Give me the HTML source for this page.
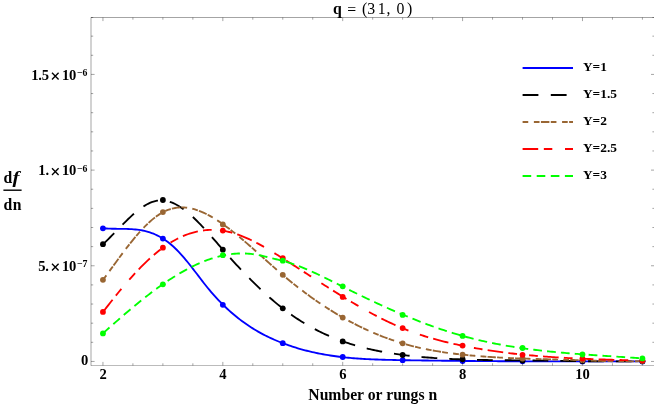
<!DOCTYPE html>
<html><head><meta charset="utf-8"><title>plot</title>
<style>html,body{margin:0;padding:0;background:#fff;overflow:hidden}body{width:654px;height:404px;font-family:"Liberation Serif",serif}</style></head>
<body>
<svg width="654" height="404" viewBox="0 0 654 404" style="display:block;will-change:transform">
<rect width="654" height="404" fill="#fff"/>
<g fill="none" stroke-width="1.85" stroke-linecap="butt" stroke-linejoin="round">
<path d="M102.95,228.29 L104.75,228.42 L106.56,228.53 L108.36,228.62 L110.17,228.68 L111.97,228.73 L113.78,228.76 L115.58,228.78 L117.38,228.80 L119.19,228.81 L120.99,228.83 L122.80,228.85 L124.60,228.88 L126.40,228.93 L128.21,228.99 L130.01,229.07 L131.82,229.17 L133.62,229.31 L135.43,229.47 L137.23,229.67 L139.03,229.91 L140.84,230.20 L142.64,230.53 L144.45,230.91 L146.25,231.35 L148.06,231.84 L149.86,232.40 L151.66,233.02 L153.47,233.72 L155.27,234.48 L157.08,235.33 L158.88,236.25 L160.68,237.25 L162.49,238.33 L164.29,239.49 L166.10,240.73 L167.90,242.06 L169.71,243.47 L171.51,244.97 L173.31,246.56 L175.12,248.23 L176.92,250.00 L178.73,251.85 L180.53,253.79 L182.34,255.80 L184.14,257.89 L185.94,260.03 L187.75,262.23 L189.55,264.48 L191.36,266.77 L193.16,269.10 L194.96,271.45 L196.77,273.81 L198.57,276.17 L200.38,278.54 L202.18,280.88 L203.99,283.20 L205.79,285.48 L207.59,287.72 L209.40,289.91 L211.20,292.04 L213.01,294.12 L214.81,296.15 L216.62,298.13 L218.42,300.06 L220.22,301.94 L222.03,303.77 L223.83,305.55 L225.64,307.29 L227.44,308.98 L229.24,310.63 L231.05,312.24 L232.85,313.80 L234.66,315.32 L236.46,316.80 L238.27,318.23 L240.07,319.63 L241.87,320.99 L243.68,322.31 L245.48,323.59 L247.29,324.84 L249.09,326.05 L250.90,327.23 L252.70,328.37 L254.50,329.48 L256.31,330.56 L258.11,331.60 L259.92,332.62 L261.72,333.61 L263.53,334.56 L265.33,335.49 L267.13,336.39 L268.94,337.27 L270.74,338.12 L272.55,338.94 L274.35,339.74 L276.15,340.52 L277.96,341.27 L279.76,342.00 L281.57,342.72 L283.37,343.41 L285.18,344.08 L286.98,344.74 L288.78,345.37 L290.59,345.99 L292.39,346.59 L294.20,347.17 L296.00,347.73 L297.81,348.28 L299.61,348.81 L301.41,349.32 L303.22,349.82 L305.02,350.30 L306.83,350.76 L308.63,351.21 L310.43,351.64 L312.24,352.06 L314.04,352.47 L315.85,352.86 L317.65,353.23 L319.46,353.59 L321.26,353.94 L323.06,354.27 L324.87,354.60 L326.67,354.91 L328.48,355.20 L330.28,355.49 L332.09,355.76 L333.89,356.02 L335.69,356.27 L337.50,356.51 L339.30,356.74 L341.11,356.95 L342.91,357.16 L344.71,357.36 L346.52,357.55 L348.32,357.72 L350.13,357.89 L351.93,358.05 L353.74,358.21 L355.54,358.35 L357.34,358.49 L359.15,358.62 L360.95,358.74 L362.76,358.85 L364.56,358.96 L366.37,359.06 L368.17,359.15 L369.97,359.24 L371.78,359.33 L373.58,359.40 L375.39,359.48 L377.19,359.54 L378.99,359.61 L380.80,359.67 L382.60,359.72 L384.41,359.78 L386.21,359.82 L388.02,359.87 L389.82,359.91 L391.62,359.95 L393.43,359.99 L395.23,360.03 L397.04,360.06 L398.84,360.09 L400.65,360.13 L402.45,360.16 L404.25,360.19 L406.06,360.22 L407.86,360.25 L409.67,360.28 L411.47,360.31 L413.27,360.33 L415.08,360.36 L416.88,360.39 L418.69,360.42 L420.49,360.44 L422.30,360.47 L424.10,360.49 L425.90,360.52 L427.71,360.54 L429.51,360.57 L431.32,360.59 L433.12,360.62 L434.93,360.64 L436.73,360.66 L438.53,360.68 L440.34,360.70 L442.14,360.73 L443.95,360.75 L445.75,360.77 L447.55,360.79 L449.36,360.81 L451.16,360.83 L452.97,360.85 L454.77,360.86 L456.58,360.88 L458.38,360.90 L460.18,360.92 L461.99,360.93 L463.79,360.95 L465.60,360.97 L467.40,360.98 L469.21,361.00 L471.01,361.02 L472.81,361.03 L474.62,361.04 L476.42,361.06 L478.23,361.07 L480.03,361.09 L481.83,361.10 L483.64,361.11 L485.44,361.13 L487.25,361.14 L489.05,361.15 L490.86,361.16 L492.66,361.17 L494.46,361.18 L496.27,361.19 L498.07,361.21 L499.88,361.22 L501.68,361.23 L503.49,361.23 L505.29,361.24 L507.09,361.25 L508.90,361.26 L510.70,361.27 L512.51,361.28 L514.31,361.29 L516.12,361.29 L517.92,361.30 L519.72,361.31 L521.53,361.32 L523.33,361.32 L525.14,361.33 L526.94,361.33 L528.74,361.34 L530.55,361.35 L532.35,361.35 L534.16,361.36 L535.96,361.36 L537.77,361.37 L539.57,361.37 L541.37,361.38 L543.18,361.38 L544.98,361.38 L546.79,361.39 L548.59,361.39 L550.40,361.39 L552.20,361.40 L554.00,361.40 L555.81,361.40 L557.61,361.41 L559.42,361.41 L561.22,361.41 L563.02,361.41 L564.83,361.42 L566.63,361.42 L568.44,361.42 L570.24,361.42 L572.05,361.42 L573.85,361.42 L575.65,361.42 L577.46,361.42 L579.26,361.42 L581.07,361.43 L582.87,361.43 L584.68,361.43 L586.48,361.43 L588.28,361.43 L590.09,361.43 L591.89,361.43 L593.70,361.43 L595.50,361.43 L597.30,361.42 L599.11,361.42 L600.91,361.42 L602.72,361.42 L604.52,361.42 L606.33,361.42 L608.13,361.42 L609.93,361.42 L611.74,361.42 L613.54,361.42 L615.35,361.41 L617.15,361.41 L618.96,361.41 L620.76,361.41 L622.56,361.41 L624.37,361.41 L626.17,361.40 L627.98,361.40 L629.78,361.40 L631.58,361.40 L633.39,361.40 L635.19,361.40 L637.00,361.39 L638.80,361.39 L640.61,361.39 L642.41,361.39" stroke="#0000ff"/>
<path d="M102.95,244.28 L104.75,242.59 L106.56,240.85 L108.36,239.07 L110.17,237.27 L111.97,235.45 L113.78,233.61 L115.58,231.76 L117.38,229.90 L119.19,228.05 L120.99,226.21 L122.80,224.38 L124.60,222.57 L126.40,220.79 L128.21,219.04 L130.01,217.33 L131.82,215.67 L133.62,214.06 L135.43,212.51 L137.23,211.02 L139.03,209.60 L140.84,208.26 L142.64,207.01 L144.45,205.84 L146.25,204.77 L148.06,203.80 L149.86,202.93 L151.66,202.18 L153.47,201.55 L155.27,201.05 L157.08,200.68 L158.88,200.45 L160.68,200.36 L162.49,200.39 L164.29,200.56 L166.10,200.85 L167.90,201.26 L169.71,201.79 L171.51,202.43 L173.31,203.18 L175.12,204.03 L176.92,204.98 L178.73,206.02 L180.53,207.16 L182.34,208.38 L184.14,209.69 L185.94,211.07 L187.75,212.53 L189.55,214.05 L191.36,215.64 L193.16,217.30 L194.96,219.01 L196.77,220.77 L198.57,222.59 L200.38,224.44 L202.18,226.34 L203.99,228.28 L205.79,230.24 L207.59,232.24 L209.40,234.25 L211.20,236.29 L213.01,238.34 L214.81,240.41 L216.62,242.48 L218.42,244.55 L220.22,246.62 L222.03,248.68 L223.83,250.74 L225.64,252.78 L227.44,254.81 L229.24,256.83 L231.05,258.84 L232.85,260.83 L234.66,262.80 L236.46,264.76 L238.27,266.71 L240.07,268.64 L241.87,270.55 L243.68,272.44 L245.48,274.32 L247.29,276.18 L249.09,278.02 L250.90,279.85 L252.70,281.65 L254.50,283.43 L256.31,285.20 L258.11,286.94 L259.92,288.66 L261.72,290.36 L263.53,292.04 L265.33,293.69 L267.13,295.32 L268.94,296.93 L270.74,298.51 L272.55,300.07 L274.35,301.61 L276.15,303.11 L277.96,304.60 L279.76,306.05 L281.57,307.48 L283.37,308.88 L285.18,310.25 L286.98,311.60 L288.78,312.92 L290.59,314.21 L292.39,315.47 L294.20,316.71 L296.00,317.92 L297.81,319.11 L299.61,320.27 L301.41,321.41 L303.22,322.52 L305.02,323.61 L306.83,324.67 L308.63,325.72 L310.43,326.73 L312.24,327.73 L314.04,328.70 L315.85,329.65 L317.65,330.57 L319.46,331.48 L321.26,332.36 L323.06,333.22 L324.87,334.06 L326.67,334.88 L328.48,335.68 L330.28,336.46 L332.09,337.22 L333.89,337.96 L335.69,338.69 L337.50,339.39 L339.30,340.07 L341.11,340.74 L342.91,341.39 L344.71,342.02 L346.52,342.64 L348.32,343.23 L350.13,343.81 L351.93,344.38 L353.74,344.93 L355.54,345.46 L357.34,345.98 L359.15,346.48 L360.95,346.97 L362.76,347.45 L364.56,347.91 L366.37,348.35 L368.17,348.78 L369.97,349.20 L371.78,349.61 L373.58,350.01 L375.39,350.39 L377.19,350.76 L378.99,351.12 L380.80,351.47 L382.60,351.80 L384.41,352.13 L386.21,352.45 L388.02,352.75 L389.82,353.05 L391.62,353.34 L393.43,353.61 L395.23,353.88 L397.04,354.14 L398.84,354.40 L400.65,354.64 L402.45,354.88 L404.25,355.11 L406.06,355.33 L407.86,355.55 L409.67,355.76 L411.47,355.96 L413.27,356.16 L415.08,356.35 L416.88,356.53 L418.69,356.71 L420.49,356.88 L422.30,357.05 L424.10,357.21 L425.90,357.36 L427.71,357.51 L429.51,357.65 L431.32,357.79 L433.12,357.92 L434.93,358.05 L436.73,358.17 L438.53,358.29 L440.34,358.40 L442.14,358.51 L443.95,358.61 L445.75,358.71 L447.55,358.80 L449.36,358.89 L451.16,358.98 L452.97,359.06 L454.77,359.14 L456.58,359.22 L458.38,359.29 L460.18,359.35 L461.99,359.42 L463.79,359.48 L465.60,359.54 L467.40,359.59 L469.21,359.64 L471.01,359.69 L472.81,359.74 L474.62,359.78 L476.42,359.82 L478.23,359.86 L480.03,359.90 L481.83,359.93 L483.64,359.96 L485.44,359.99 L487.25,360.02 L489.05,360.05 L490.86,360.08 L492.66,360.10 L494.46,360.12 L496.27,360.15 L498.07,360.17 L499.88,360.19 L501.68,360.21 L503.49,360.22 L505.29,360.24 L507.09,360.26 L508.90,360.28 L510.70,360.29 L512.51,360.31 L514.31,360.33 L516.12,360.34 L517.92,360.36 L519.72,360.38 L521.53,360.40 L523.33,360.42 L525.14,360.44 L526.94,360.46 L528.74,360.48 L530.55,360.50 L532.35,360.52 L534.16,360.54 L535.96,360.56 L537.77,360.59 L539.57,360.61 L541.37,360.63 L543.18,360.66 L544.98,360.68 L546.79,360.70 L548.59,360.73 L550.40,360.75 L552.20,360.78 L554.00,360.80 L555.81,360.83 L557.61,360.85 L559.42,360.88 L561.22,360.90 L563.02,360.92 L564.83,360.95 L566.63,360.97 L568.44,361.00 L570.24,361.02 L572.05,361.04 L573.85,361.07 L575.65,361.09 L577.46,361.11 L579.26,361.13 L581.07,361.15 L582.87,361.17 L584.68,361.19 L586.48,361.21 L588.28,361.23 L590.09,361.25 L591.89,361.26 L593.70,361.28 L595.50,361.30 L597.30,361.31 L599.11,361.32 L600.91,361.34 L602.72,361.35 L604.52,361.36 L606.33,361.37 L608.13,361.38 L609.93,361.39 L611.74,361.39 L613.54,361.40 L615.35,361.40 L617.15,361.41 L618.96,361.41 L620.76,361.41 L622.56,361.41 L624.37,361.40 L626.17,361.40 L627.98,361.39 L629.78,361.39 L631.58,361.38 L633.39,361.37 L635.19,361.36 L637.00,361.34 L638.80,361.33 L640.61,361.31 L642.41,361.29" stroke="#000000" stroke-dasharray="15.75 12.02"/>
<path d="M102.95,280.04 L104.75,277.57 L106.56,275.10 L108.36,272.61 L110.17,270.13 L111.97,267.64 L113.78,265.16 L115.58,262.68 L117.38,260.22 L119.19,257.77 L120.99,255.33 L122.80,252.92 L124.60,250.53 L126.40,248.17 L128.21,245.85 L130.01,243.55 L131.82,241.30 L133.62,239.09 L135.43,236.93 L137.23,234.81 L139.03,232.75 L140.84,230.75 L142.64,228.81 L144.45,226.93 L146.25,225.12 L148.06,223.38 L149.86,221.71 L151.66,220.13 L153.47,218.62 L155.27,217.20 L157.08,215.87 L158.88,214.64 L160.68,213.50 L162.49,212.46 L164.29,211.52 L166.10,210.68 L167.90,209.95 L169.71,209.31 L171.51,208.77 L173.31,208.32 L175.12,207.97 L176.92,207.70 L178.73,207.52 L180.53,207.43 L182.34,207.41 L184.14,207.48 L185.94,207.63 L187.75,207.85 L189.55,208.15 L191.36,208.52 L193.16,208.95 L194.96,209.46 L196.77,210.03 L198.57,210.66 L200.38,211.35 L202.18,212.10 L203.99,212.91 L205.79,213.77 L207.59,214.68 L209.40,215.64 L211.20,216.65 L213.01,217.70 L214.81,218.80 L216.62,219.93 L218.42,221.11 L220.22,222.32 L222.03,223.56 L223.83,224.84 L225.64,226.15 L227.44,227.48 L229.24,228.84 L231.05,230.23 L232.85,231.64 L234.66,233.08 L236.46,234.53 L238.27,236.01 L240.07,237.51 L241.87,239.02 L243.68,240.55 L245.48,242.09 L247.29,243.65 L249.09,245.22 L250.90,246.80 L252.70,248.39 L254.50,249.99 L256.31,251.59 L258.11,253.20 L259.92,254.81 L261.72,256.42 L263.53,258.04 L265.33,259.65 L267.13,261.27 L268.94,262.88 L270.74,264.48 L272.55,266.08 L274.35,267.67 L276.15,269.25 L277.96,270.83 L279.76,272.39 L281.57,273.94 L283.37,275.47 L285.18,276.99 L286.98,278.49 L288.78,279.98 L290.59,281.45 L292.39,282.91 L294.20,284.35 L296.00,285.78 L297.81,287.19 L299.61,288.59 L301.41,289.97 L303.22,291.34 L305.02,292.69 L306.83,294.03 L308.63,295.35 L310.43,296.65 L312.24,297.94 L314.04,299.22 L315.85,300.48 L317.65,301.73 L319.46,302.96 L321.26,304.17 L323.06,305.37 L324.87,306.56 L326.67,307.73 L328.48,308.88 L330.28,310.02 L332.09,311.15 L333.89,312.26 L335.69,313.35 L337.50,314.43 L339.30,315.50 L341.11,316.55 L342.91,317.58 L344.71,318.60 L346.52,319.60 L348.32,320.59 L350.13,321.57 L351.93,322.53 L353.74,323.47 L355.54,324.40 L357.34,325.32 L359.15,326.22 L360.95,327.10 L362.76,327.97 L364.56,328.83 L366.37,329.67 L368.17,330.49 L369.97,331.30 L371.78,332.10 L373.58,332.88 L375.39,333.64 L377.19,334.39 L378.99,335.13 L380.80,335.85 L382.60,336.56 L384.41,337.25 L386.21,337.92 L388.02,338.59 L389.82,339.23 L391.62,339.86 L393.43,340.48 L395.23,341.08 L397.04,341.67 L398.84,342.24 L400.65,342.80 L402.45,343.34 L404.25,343.87 L406.06,344.38 L407.86,344.88 L409.67,345.37 L411.47,345.84 L413.27,346.30 L415.08,346.74 L416.88,347.17 L418.69,347.59 L420.49,348.00 L422.30,348.40 L424.10,348.78 L425.90,349.15 L427.71,349.51 L429.51,349.86 L431.32,350.20 L433.12,350.52 L434.93,350.84 L436.73,351.15 L438.53,351.45 L440.34,351.74 L442.14,352.02 L443.95,352.29 L445.75,352.55 L447.55,352.80 L449.36,353.05 L451.16,353.29 L452.97,353.52 L454.77,353.74 L456.58,353.96 L458.38,354.17 L460.18,354.37 L461.99,354.57 L463.79,354.76 L465.60,354.95 L467.40,355.13 L469.21,355.30 L471.01,355.47 L472.81,355.64 L474.62,355.79 L476.42,355.95 L478.23,356.10 L480.03,356.24 L481.83,356.38 L483.64,356.52 L485.44,356.65 L487.25,356.78 L489.05,356.90 L490.86,357.02 L492.66,357.13 L494.46,357.24 L496.27,357.35 L498.07,357.45 L499.88,357.55 L501.68,357.65 L503.49,357.74 L505.29,357.83 L507.09,357.92 L508.90,358.00 L510.70,358.08 L512.51,358.16 L514.31,358.23 L516.12,358.31 L517.92,358.38 L519.72,358.45 L521.53,358.51 L523.33,358.58 L525.14,358.64 L526.94,358.70 L528.74,358.76 L530.55,358.81 L532.35,358.87 L534.16,358.92 L535.96,358.98 L537.77,359.03 L539.57,359.08 L541.37,359.13 L543.18,359.18 L544.98,359.23 L546.79,359.28 L548.59,359.32 L550.40,359.37 L552.20,359.42 L554.00,359.46 L555.81,359.51 L557.61,359.56 L559.42,359.60 L561.22,359.65 L563.02,359.70 L564.83,359.75 L566.63,359.80 L568.44,359.85 L570.24,359.90 L572.05,359.95 L573.85,360.00 L575.65,360.06 L577.46,360.11 L579.26,360.17 L581.07,360.23 L582.87,360.29 L584.68,360.35 L586.48,360.41 L588.28,360.48 L590.09,360.54 L591.89,360.61 L593.70,360.67 L595.50,360.73 L597.30,360.80 L599.11,360.86 L600.91,360.92 L602.72,360.98 L604.52,361.04 L606.33,361.09 L608.13,361.14 L609.93,361.19 L611.74,361.23 L613.54,361.27 L615.35,361.30 L617.15,361.33 L618.96,361.35 L620.76,361.37 L622.56,361.38 L624.37,361.39 L626.17,361.39 L627.98,361.38 L629.78,361.36 L631.58,361.34 L633.39,361.31 L635.19,361.26 L637.00,361.21 L638.80,361.16 L640.61,361.09 L642.41,361.01" stroke="#996633" stroke-dasharray="5.8 5.24 5.8 1.2 8.36 1.2"/>
<path d="M102.95,312.13 L104.75,309.76 L106.56,307.41 L108.36,305.08 L110.17,302.77 L111.97,300.47 L113.78,298.20 L115.58,295.95 L117.38,293.72 L119.19,291.51 L120.99,289.33 L122.80,287.17 L124.60,285.03 L126.40,282.93 L128.21,280.85 L130.01,278.80 L131.82,276.79 L133.62,274.80 L135.43,272.85 L137.23,270.92 L139.03,269.04 L140.84,267.19 L142.64,265.37 L144.45,263.59 L146.25,261.85 L148.06,260.15 L149.86,258.49 L151.66,256.87 L153.47,255.29 L155.27,253.76 L157.08,252.27 L158.88,250.83 L160.68,249.43 L162.49,248.08 L164.29,246.78 L166.10,245.52 L167.90,244.32 L169.71,243.16 L171.51,242.05 L173.31,240.99 L175.12,239.98 L176.92,239.02 L178.73,238.10 L180.53,237.24 L182.34,236.42 L184.14,235.65 L185.94,234.93 L187.75,234.25 L189.55,233.63 L191.36,233.05 L193.16,232.52 L194.96,232.04 L196.77,231.61 L198.57,231.22 L200.38,230.89 L202.18,230.60 L203.99,230.36 L205.79,230.16 L207.59,230.02 L209.40,229.92 L211.20,229.87 L213.01,229.87 L214.81,229.92 L216.62,230.01 L218.42,230.15 L220.22,230.34 L222.03,230.58 L223.83,230.86 L225.64,231.20 L227.44,231.57 L229.24,231.99 L231.05,232.46 L232.85,232.97 L234.66,233.51 L236.46,234.10 L238.27,234.72 L240.07,235.38 L241.87,236.08 L243.68,236.80 L245.48,237.56 L247.29,238.36 L249.09,239.18 L250.90,240.03 L252.70,240.91 L254.50,241.81 L256.31,242.74 L258.11,243.69 L259.92,244.67 L261.72,245.66 L263.53,246.67 L265.33,247.70 L267.13,248.75 L268.94,249.82 L270.74,250.90 L272.55,251.99 L274.35,253.09 L276.15,254.20 L277.96,255.32 L279.76,256.45 L281.57,257.59 L283.37,258.73 L285.18,259.87 L286.98,261.02 L288.78,262.17 L290.59,263.32 L292.39,264.48 L294.20,265.64 L296.00,266.80 L297.81,267.96 L299.61,269.13 L301.41,270.29 L303.22,271.46 L305.02,272.63 L306.83,273.80 L308.63,274.96 L310.43,276.13 L312.24,277.30 L314.04,278.46 L315.85,279.63 L317.65,280.79 L319.46,281.95 L321.26,283.11 L323.06,284.27 L324.87,285.42 L326.67,286.57 L328.48,287.72 L330.28,288.87 L332.09,290.01 L333.89,291.14 L335.69,292.27 L337.50,293.40 L339.30,294.52 L341.11,295.64 L342.91,296.75 L344.71,297.85 L346.52,298.95 L348.32,300.04 L350.13,301.12 L351.93,302.20 L353.74,303.27 L355.54,304.33 L357.34,305.38 L359.15,306.43 L360.95,307.47 L362.76,308.49 L364.56,309.51 L366.37,310.52 L368.17,311.52 L369.97,312.50 L371.78,313.48 L373.58,314.45 L375.39,315.40 L377.19,316.34 L378.99,317.27 L380.80,318.19 L382.60,319.10 L384.41,320.00 L386.21,320.88 L388.02,321.74 L389.82,322.60 L391.62,323.44 L393.43,324.26 L395.23,325.08 L397.04,325.87 L398.84,326.65 L400.65,327.42 L402.45,328.17 L404.25,328.90 L406.06,329.62 L407.86,330.32 L409.67,331.01 L411.47,331.68 L413.27,332.34 L415.08,332.99 L416.88,333.61 L418.69,334.23 L420.49,334.83 L422.30,335.42 L424.10,336.00 L425.90,336.56 L427.71,337.11 L429.51,337.65 L431.32,338.17 L433.12,338.69 L434.93,339.19 L436.73,339.69 L438.53,340.17 L440.34,340.64 L442.14,341.10 L443.95,341.55 L445.75,342.00 L447.55,342.43 L449.36,342.85 L451.16,343.27 L452.97,343.68 L454.77,344.07 L456.58,344.47 L458.38,344.85 L460.18,345.23 L461.99,345.60 L463.79,345.96 L465.60,346.31 L467.40,346.66 L469.21,347.01 L471.01,347.34 L472.81,347.68 L474.62,348.00 L476.42,348.32 L478.23,348.63 L480.03,348.94 L481.83,349.24 L483.64,349.53 L485.44,349.82 L487.25,350.10 L489.05,350.38 L490.86,350.65 L492.66,350.92 L494.46,351.18 L496.27,351.44 L498.07,351.69 L499.88,351.93 L501.68,352.17 L503.49,352.41 L505.29,352.64 L507.09,352.86 L508.90,353.08 L510.70,353.30 L512.51,353.51 L514.31,353.72 L516.12,353.92 L517.92,354.11 L519.72,354.31 L521.53,354.49 L523.33,354.68 L525.14,354.86 L526.94,355.03 L528.74,355.20 L530.55,355.37 L532.35,355.53 L534.16,355.69 L535.96,355.84 L537.77,356.00 L539.57,356.14 L541.37,356.29 L543.18,356.43 L544.98,356.56 L546.79,356.70 L548.59,356.83 L550.40,356.95 L552.20,357.07 L554.00,357.19 L555.81,357.31 L557.61,357.43 L559.42,357.54 L561.22,357.64 L563.02,357.75 L564.83,357.85 L566.63,357.95 L568.44,358.05 L570.24,358.14 L572.05,358.23 L573.85,358.32 L575.65,358.41 L577.46,358.49 L579.26,358.58 L581.07,358.66 L582.87,358.73 L584.68,358.81 L586.48,358.88 L588.28,358.96 L590.09,359.03 L591.89,359.10 L593.70,359.16 L595.50,359.23 L597.30,359.29 L599.11,359.35 L600.91,359.41 L602.72,359.47 L604.52,359.53 L606.33,359.59 L608.13,359.64 L609.93,359.70 L611.74,359.75 L613.54,359.80 L615.35,359.86 L617.15,359.91 L618.96,359.96 L620.76,360.01 L622.56,360.06 L624.37,360.10 L626.17,360.15 L627.98,360.20 L629.78,360.25 L631.58,360.29 L633.39,360.34 L635.19,360.39 L637.00,360.43 L638.80,360.48 L640.61,360.53 L642.41,360.57" stroke="#ff0000" stroke-dasharray="15.7 5.22 8.71 12.15 8.71 5.22"/>
<path d="M102.95,333.42 L104.75,331.80 L106.56,330.18 L108.36,328.56 L110.17,326.96 L111.97,325.35 L113.78,323.75 L115.58,322.16 L117.38,320.58 L119.19,319.00 L120.99,317.43 L122.80,315.87 L124.60,314.31 L126.40,312.77 L128.21,311.24 L130.01,309.71 L131.82,308.20 L133.62,306.69 L135.43,305.20 L137.23,303.72 L139.03,302.25 L140.84,300.80 L142.64,299.35 L144.45,297.92 L146.25,296.51 L148.06,295.11 L149.86,293.72 L151.66,292.35 L153.47,291.00 L155.27,289.66 L157.08,288.34 L158.88,287.03 L160.68,285.75 L162.49,284.48 L164.29,283.23 L166.10,282.00 L167.90,280.78 L169.71,279.59 L171.51,278.42 L173.31,277.27 L175.12,276.14 L176.92,275.03 L178.73,273.95 L180.53,272.88 L182.34,271.84 L184.14,270.83 L185.94,269.84 L187.75,268.87 L189.55,267.93 L191.36,267.01 L193.16,266.12 L194.96,265.25 L196.77,264.41 L198.57,263.60 L200.38,262.81 L202.18,262.06 L203.99,261.33 L205.79,260.63 L207.59,259.96 L209.40,259.32 L211.20,258.71 L213.01,258.14 L214.81,257.59 L216.62,257.07 L218.42,256.59 L220.22,256.14 L222.03,255.72 L223.83,255.34 L225.64,254.99 L227.44,254.67 L229.24,254.39 L231.05,254.14 L232.85,253.94 L234.66,253.76 L236.46,253.62 L238.27,253.52 L240.07,253.46 L241.87,253.44 L243.68,253.45 L245.48,253.50 L247.29,253.60 L249.09,253.73 L250.90,253.90 L252.70,254.12 L254.50,254.37 L256.31,254.66 L258.11,254.99 L259.92,255.36 L261.72,255.74 L263.53,256.15 L265.33,256.58 L267.13,257.02 L268.94,257.47 L270.74,257.92 L272.55,258.37 L274.35,258.82 L276.15,259.26 L277.96,259.69 L279.76,260.13 L281.57,260.58 L283.37,261.06 L285.18,261.56 L286.98,262.08 L288.78,262.64 L290.59,263.22 L292.39,263.82 L294.20,264.45 L296.00,265.09 L297.81,265.76 L299.61,266.45 L301.41,267.16 L303.22,267.89 L305.02,268.64 L306.83,269.40 L308.63,270.18 L310.43,270.97 L312.24,271.78 L314.04,272.60 L315.85,273.43 L317.65,274.28 L319.46,275.13 L321.26,275.99 L323.06,276.87 L324.87,277.74 L326.67,278.63 L328.48,279.52 L330.28,280.42 L332.09,281.32 L333.89,282.22 L335.69,283.12 L337.50,284.03 L339.30,284.94 L341.11,285.84 L342.91,286.75 L344.71,287.65 L346.52,288.54 L348.32,289.44 L350.13,290.33 L351.93,291.22 L353.74,292.11 L355.54,292.99 L357.34,293.87 L359.15,294.75 L360.95,295.62 L362.76,296.49 L364.56,297.36 L366.37,298.22 L368.17,299.08 L369.97,299.93 L371.78,300.78 L373.58,301.63 L375.39,302.47 L377.19,303.31 L378.99,304.14 L380.80,304.97 L382.60,305.79 L384.41,306.61 L386.21,307.42 L388.02,308.23 L389.82,309.03 L391.62,309.83 L393.43,310.63 L395.23,311.41 L397.04,312.19 L398.84,312.97 L400.65,313.74 L402.45,314.50 L404.25,315.26 L406.06,316.02 L407.86,316.76 L409.67,317.50 L411.47,318.24 L413.27,318.96 L415.08,319.68 L416.88,320.40 L418.69,321.10 L420.49,321.80 L422.30,322.50 L424.10,323.18 L425.90,323.86 L427.71,324.53 L429.51,325.20 L431.32,325.85 L433.12,326.50 L434.93,327.14 L436.73,327.78 L438.53,328.40 L440.34,329.02 L442.14,329.63 L443.95,330.23 L445.75,330.82 L447.55,331.41 L449.36,331.98 L451.16,332.55 L452.97,333.11 L454.77,333.66 L456.58,334.20 L458.38,334.73 L460.18,335.25 L461.99,335.76 L463.79,336.27 L465.60,336.76 L467.40,337.25 L469.21,337.72 L471.01,338.19 L472.81,338.65 L474.62,339.10 L476.42,339.54 L478.23,339.97 L480.03,340.39 L481.83,340.81 L483.64,341.21 L485.44,341.61 L487.25,342.00 L489.05,342.39 L490.86,342.76 L492.66,343.13 L494.46,343.49 L496.27,343.84 L498.07,344.19 L499.88,344.53 L501.68,344.86 L503.49,345.19 L505.29,345.50 L507.09,345.81 L508.90,346.12 L510.70,346.42 L512.51,346.71 L514.31,346.99 L516.12,347.27 L517.92,347.55 L519.72,347.81 L521.53,348.08 L523.33,348.33 L525.14,348.58 L526.94,348.83 L528.74,349.07 L530.55,349.30 L532.35,349.53 L534.16,349.75 L535.96,349.97 L537.77,350.19 L539.57,350.40 L541.37,350.60 L543.18,350.81 L544.98,351.00 L546.79,351.20 L548.59,351.38 L550.40,351.57 L552.20,351.75 L554.00,351.93 L555.81,352.10 L557.61,352.27 L559.42,352.44 L561.22,352.60 L563.02,352.76 L564.83,352.92 L566.63,353.07 L568.44,353.22 L570.24,353.37 L572.05,353.52 L573.85,353.66 L575.65,353.81 L577.46,353.94 L579.26,354.08 L581.07,354.22 L582.87,354.35 L584.68,354.48 L586.48,354.61 L588.28,354.74 L590.09,354.87 L591.89,354.99 L593.70,355.12 L595.50,355.24 L597.30,355.36 L599.11,355.48 L600.91,355.61 L602.72,355.73 L604.52,355.85 L606.33,355.96 L608.13,356.08 L609.93,356.20 L611.74,356.32 L613.54,356.44 L615.35,356.56 L617.15,356.68 L618.96,356.80 L620.76,356.92 L622.56,357.04 L624.37,357.16 L626.17,357.28 L627.98,357.41 L629.78,357.53 L631.58,357.66 L633.39,357.79 L635.19,357.91 L637.00,358.04 L638.80,358.18 L640.61,358.31 L642.41,358.44" stroke="#00ff00" stroke-dasharray="8.8 5.1"/>
</g>
<g fill="#0000ff">
<circle cx="102.95" cy="228.3" r="2.9"/>
<circle cx="162.89" cy="238.6" r="2.9"/>
<circle cx="222.83" cy="304.8" r="2.9"/>
<circle cx="282.77" cy="343.2" r="2.9"/>
<circle cx="342.71" cy="357.0" r="2.9"/>
<circle cx="402.65" cy="360.2" r="2.9"/>
<circle cx="462.59" cy="361.0" r="2.9"/>
<circle cx="522.53" cy="361.3" r="2.9"/>
<circle cx="582.47" cy="361.4" r="2.9"/>
<circle cx="642.41" cy="361.4" r="2.9"/>
</g>
<g fill="#000000">
<circle cx="102.95" cy="244.2" r="2.9"/>
<circle cx="162.89" cy="200.0" r="2.9"/>
<circle cx="222.83" cy="249.7" r="2.9"/>
<circle cx="282.77" cy="308.3" r="2.9"/>
<circle cx="342.71" cy="341.4" r="2.9"/>
<circle cx="402.65" cy="355.0" r="2.9"/>
<circle cx="462.59" cy="359.2" r="2.9"/>
<circle cx="522.53" cy="360.6" r="2.9"/>
<circle cx="582.47" cy="361.1" r="2.9"/>
<circle cx="642.41" cy="361.3" r="2.9"/>
</g>
<g fill="#996633">
<circle cx="102.95" cy="279.8" r="2.9"/>
<circle cx="162.89" cy="212.1" r="2.9"/>
<circle cx="222.83" cy="224.4" r="2.9"/>
<circle cx="282.77" cy="274.8" r="2.9"/>
<circle cx="342.71" cy="317.6" r="2.9"/>
<circle cx="402.65" cy="343.3" r="2.9"/>
<circle cx="462.59" cy="354.7" r="2.9"/>
<circle cx="522.53" cy="358.5" r="2.9"/>
<circle cx="582.47" cy="360.3" r="2.9"/>
<circle cx="642.41" cy="361.0" r="2.9"/>
</g>
<g fill="#ff0000">
<circle cx="102.95" cy="311.9" r="2.9"/>
<circle cx="162.89" cy="247.7" r="2.9"/>
<circle cx="222.83" cy="230.6" r="2.9"/>
<circle cx="282.77" cy="258.2" r="2.9"/>
<circle cx="342.71" cy="296.9" r="2.9"/>
<circle cx="402.65" cy="328.1" r="2.9"/>
<circle cx="462.59" cy="345.6" r="2.9"/>
<circle cx="522.53" cy="354.8" r="2.9"/>
<circle cx="582.47" cy="358.6" r="2.9"/>
<circle cx="642.41" cy="360.6" r="2.9"/>
</g>
<g fill="#00ff00">
<circle cx="102.95" cy="333.4" r="2.9"/>
<circle cx="162.89" cy="284.3" r="2.9"/>
<circle cx="222.83" cy="255.2" r="2.9"/>
<circle cx="282.77" cy="260.7" r="2.9"/>
<circle cx="342.71" cy="286.3" r="2.9"/>
<circle cx="402.65" cy="314.9" r="2.9"/>
<circle cx="462.59" cy="335.9" r="2.9"/>
<circle cx="522.53" cy="348.0" r="2.9"/>
<circle cx="582.47" cy="354.5" r="2.9"/>
<circle cx="642.41" cy="358.4" r="2.9"/>
</g>
<path d="M91.0,365.5H655.6" fill="none" stroke="#000" stroke-width="0.27"/>
<path d="M91.0,17.5H655.6M91.0,17.3V365.7M102.95,365.5v-3.6M102.95,17.5v3.6M132.92,365.5v-2.2M132.92,17.5v2.2M162.89,365.5v-2.2M162.89,17.5v2.2M192.86,365.5v-2.2M192.86,17.5v2.2M222.83,365.5v-3.6M222.83,17.5v3.6M252.80,365.5v-2.2M252.80,17.5v2.2M282.77,365.5v-2.2M282.77,17.5v2.2M312.74,365.5v-2.2M312.74,17.5v2.2M342.71,365.5v-3.6M342.71,17.5v3.6M372.68,365.5v-2.2M372.68,17.5v2.2M402.65,365.5v-2.2M402.65,17.5v2.2M432.62,365.5v-2.2M432.62,17.5v2.2M462.59,365.5v-3.6M462.59,17.5v3.6M492.56,365.5v-2.2M492.56,17.5v2.2M522.53,365.5v-2.2M522.53,17.5v2.2M552.50,365.5v-2.2M552.50,17.5v2.2M582.47,365.5v-3.6M582.47,17.5v3.6M612.44,365.5v-2.2M612.44,17.5v2.2M642.41,365.5v-2.2M642.41,17.5v2.2M91.0,361.45h3.6M654.6,361.45h-3.6M91.0,342.31h2.2M654.6,342.31h-2.2M91.0,323.18h2.2M654.6,323.18h-2.2M91.0,304.04h2.2M654.6,304.04h-2.2M91.0,284.91h2.2M654.6,284.91h-2.2M91.0,265.77h3.6M654.6,265.77h-3.6M91.0,246.64h2.2M654.6,246.64h-2.2M91.0,227.50h2.2M654.6,227.50h-2.2M91.0,208.37h2.2M654.6,208.37h-2.2M91.0,189.23h2.2M654.6,189.23h-2.2M91.0,170.10h3.6M654.6,170.10h-3.6M91.0,150.96h2.2M654.6,150.96h-2.2M91.0,131.83h2.2M654.6,131.83h-2.2M91.0,112.69h2.2M654.6,112.69h-2.2M91.0,93.56h2.2M654.6,93.56h-2.2M91.0,74.42h3.6M654.6,74.42h-3.6M91.0,55.29h2.2M654.6,55.29h-2.2M91.0,36.15h2.2M654.6,36.15h-2.2M91.0,17.5h2.2M654.6,17.5h-2.2" fill="none" stroke="#000" stroke-width="0.36"/>
<g font-family="'Liberation Serif', serif" font-weight="bold" fill="#000">
<text x="103.05" y="378.6" font-size="14.6" text-anchor="middle">2</text>
<text x="222.93" y="378.6" font-size="14.6" text-anchor="middle">4</text>
<text x="342.81" y="378.6" font-size="14.6" text-anchor="middle">6</text>
<text x="462.69" y="378.6" font-size="14.6" text-anchor="middle">8</text>
<text x="582.57" y="378.6" font-size="14.6" text-anchor="middle">10</text>
<text y="79.9" font-size="14.6"><tspan x="31.2" letter-spacing="-0.2">1.5</tspan><tspan x="62.1" letter-spacing="-0.3">10</tspan><tspan x="76.9" y="76.1" font-size="9.8">−6</tspan></text>
<path d="M52.0,72.80000000000001L58.599999999999994,79.4M52.0,79.4L58.599999999999994,72.80000000000001" stroke="#000" stroke-width="1.35" fill="none"/>
<text y="175.4" font-size="14.6"><tspan x="38.3" letter-spacing="-0.2">1.</tspan><tspan x="62.1" letter-spacing="-0.3">10</tspan><tspan x="76.9" y="171.6" font-size="9.8">−6</tspan></text>
<path d="M52.0,168.29999999999998L58.599999999999994,174.9M52.0,174.9L58.599999999999994,168.29999999999998" stroke="#000" stroke-width="1.35" fill="none"/>
<text y="270.9" font-size="14.6"><tspan x="38.2" letter-spacing="-0.2">5.</tspan><tspan x="62.1" letter-spacing="-0.3">10</tspan><tspan x="76.9" y="267.1" font-size="9.8">−7</tspan></text>
<path d="M52.0,263.79999999999995L58.599999999999994,270.4M52.0,270.4L58.599999999999994,263.79999999999995" stroke="#000" stroke-width="1.35" fill="none"/>
<text x="88.4" y="364.8" font-size="14.6" text-anchor="end">0</text>
<text x="372.75" y="400.1" font-size="15.7" text-anchor="middle">Number or rungs n</text>
<text y="183.3" font-size="15.7"><tspan x="3.4">d</tspan></text>
<text transform="translate(12.6,183.3) scale(1.32,1)" font-size="15.7" font-style="italic">f</text>
<rect x="3.4" y="189.5" width="18.2" height="1.4"/>
<text y="209.5" font-size="15.7"><tspan x="3.4">d</tspan><tspan x="12.7">n</tspan></text>
<text y="13.8" font-size="15.8" font-weight="normal"><tspan x="333.1" font-weight="bold">q</tspan><tspan x="347.2" dy="1.3">=</tspan><tspan x="362.1" dy="-1.3">(</tspan><tspan x="367.3">3</tspan><tspan x="377.75">1</tspan><tspan x="386.4">,</tspan><tspan x="396.6">0</tspan><tspan x="407.0">)</tspan></text>
<text x="582.9" y="71.0" font-size="13.4">Y=1</text>
<text x="582.9" y="98.0" font-size="13.4">Y=1.5</text>
<text x="582.9" y="125.0" font-size="13.4">Y=2</text>
<text x="582.9" y="152.0" font-size="13.4">Y=2.5</text>
<text x="582.9" y="179.0" font-size="13.4">Y=3</text>
</g>
<g fill="none" stroke-width="2">
<path d="M522.6,68.0H573" stroke="#0000ff"/>
<path d="M522.6,95.0H573" stroke="#000000" stroke-dasharray="15.8 12.4"/>
<path d="M522.6,122.0H573" stroke="#996633" stroke-dasharray="5.64 5.64 5.64 1.41 8.46 1.41"/>
<path d="M522.6,149.0H573" stroke="#ff0000" stroke-dasharray="15.6 5.64 8.46 12.7 8.46 5.64"/>
<path d="M522.6,176.0H573" stroke="#00ff00" stroke-dasharray="8.6 5.5"/>
</g>
</svg>
</body></html>
